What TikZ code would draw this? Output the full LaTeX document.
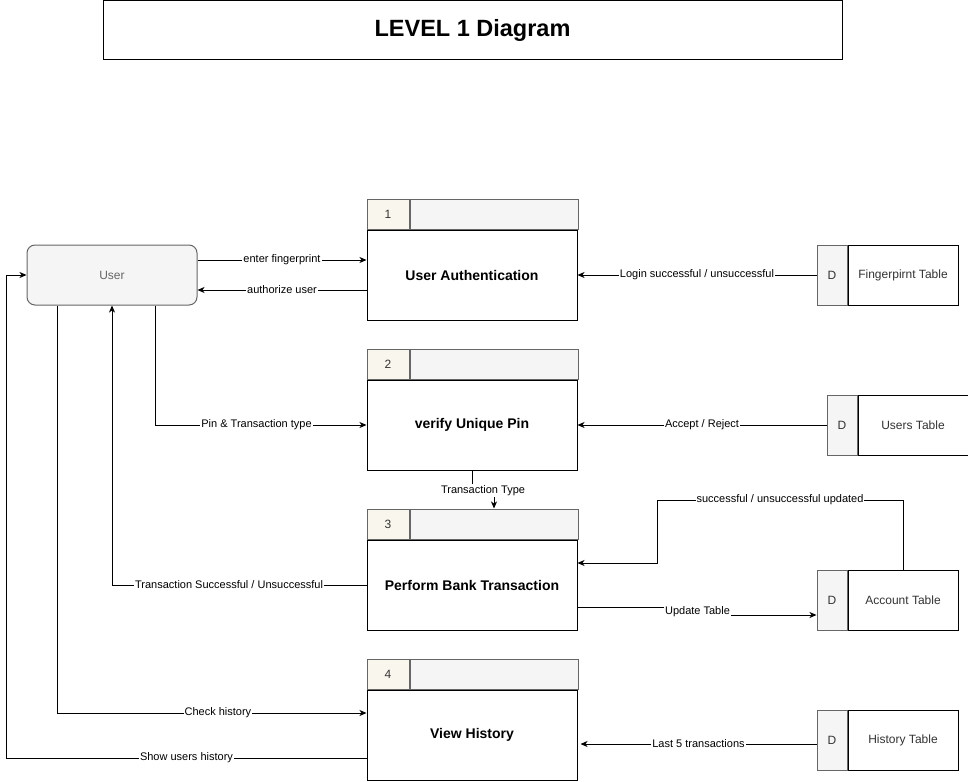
\documentclass[tikz,border=0pt]{standalone}
\usepackage{fontspec}
\setmainfont{Liberation Sans}
\usetikzlibrary{arrows.meta}
\definecolor{gris}{HTML}{F5F5F5}
\definecolor{borde}{HTML}{666666}
\definecolor{crema}{HTML}{F9F7ED}
\definecolor{texto}{HTML}{333333}
\begin{document}
\begin{tikzpicture}[x=1pt,y=-1pt,line width=1pt,
    proc/.style={draw,fill=white,minimum width=210pt,minimum height=90pt,
      font=\fontsize{14}{16}\selectfont\bfseries},
    numcell/.style={draw=borde,fill=crema,minimum width=42pt,minimum height=30pt,
      anchor=south west,font=\fontsize{12}{14}\selectfont,text=texto},
    headcell/.style={draw=borde,fill=gris,minimum width=168pt,minimum height=30pt,
      anchor=south west},
    dcell/.style={draw=borde,fill=gris,minimum width=30pt,minimum height=60pt,
      font=\fontsize{12}{14}\selectfont,text=texto},
    store/.style={draw,fill=white,minimum width=110pt,minimum height=60pt,
      anchor=west,font=\fontsize{12}{14}\selectfont,text=texto},
    flow/.style={-{Stealth[length=7pt,width=6pt,inset=2pt]},line width=1pt},
    lbl/.style={fill=white,inner sep=1pt,font=\fontsize{11}{13}\selectfont,text=black}]
    \useasboundingbox (0,0) rectangle (968,781);
    % titulo
    \node[draw,minimum width=739pt,minimum height=59pt,font=\fontsize{23.5}{28}\selectfont\bfseries]
      (titulo) at (472.5,30.5) {LEVEL 1 Diagram};
    % usuario
    \node[draw=borde,fill=gris,rounded corners=8pt,minimum width=170pt,minimum height=60pt,
      font=\fontsize{12}{14}\selectfont,text=borde] (user) at (112,275) {User};
    % procesos
    \node[proc] (p1) at (472,275) {User Authentication};
    \node[numcell] (p1n) at (p1.north west) {1};
    \node[headcell] (p1h) at (p1n.south east) {};
    \node[proc] (p2) at (472,425) {verify Unique Pin};
    \node[numcell] (p2n) at (p2.north west) {2};
    \node[headcell] (p2h) at (p2n.south east) {};
    \node[proc] (p3) at (472,585) {Perform Bank Transaction};
    \node[numcell] (p3n) at (p3.north west) {3};
    \node[headcell] (p3h) at (p3n.south east) {};
    \node[proc] (p4) at (472,735) {View History};
    \node[numcell] (p4n) at (p4.north west) {4};
    \node[headcell] (p4h) at (p4n.south east) {};
    % almacenes de datos
    \node[dcell] (fpd) at (832,275) {D};
    \node[store] (fp) at (fpd.east) {Fingerpirnt Table};
    \node[dcell] (usd) at (842,425) {D};
    \node[store] (us) at (usd.east) {Users Table};
    \node[dcell] (acd) at (832,600) {D};
    \node[store] (ac) at (acd.east) {Account Table};
    \node[dcell] (htd) at (832,740) {D};
    \node[store] (ht) at (htd.east) {History Table};
    % flujos del proceso 1
    \draw[flow] ([yshift=15pt]user.east) -- node[lbl] {enter fingerprint} ([yshift=15pt]p1.west);
    \draw[flow] ([yshift=-15pt]p1.west) -- node[lbl] {authorize user} ([yshift=-15pt]user.east);
    \draw[flow] (fpd.west) -- node[lbl] {Login successful / unsuccessful} (p1.east);
    % flujos del proceso 2
    \draw[flow] ([xshift=43pt]user.south) |- node[lbl,pos=0.74] {Pin \& Transaction type} (p2.west);
    \draw[flow] (usd.west) -- node[lbl] {Accept / Reject} (p2.east);
    \draw[flow] (p2.south) -- ++(0,20) -| node[lbl,pos=0.25] {Transaction Type} (p3h.north);
    % flujos del proceso 3
    \draw[flow] (p3.west) -| node[lbl,pos=0.27] {Transaction Successful / Unsuccessful} (user.south);
    \coordinate (codo) at (657,500);
    \draw[flow] (ac.north) |- node[lbl,pos=0.75] {successful / unsuccessful updated} (codo)
      |- ([yshift=22pt]p3.east);
    \draw[flow] ([yshift=-22pt]p3.east) -- ++(120,0) node[lbl,yshift=-5pt] {Update Table}
      -- ++(0,8) -- ([yshift=-15pt]acd.west);
    % flujos del proceso 4
    \draw[flow] ([xshift=-55pt]user.south) |- node[lbl,pos=0.76] {Check history} ([yshift=22pt]p4.west);
    \draw[flow] ([yshift=-23pt]p4.west) -| node[lbl,pos=0.25] {Show users history}
      ([xshift=-20pt]user.west) -- (user.west);
    \draw[flow] ([yshift=-4pt]htd.west) -- node[lbl] {Last 5 transactions} ([yshift=-9pt,xshift=3pt]p4.east);
\end{tikzpicture}
\end{document}
